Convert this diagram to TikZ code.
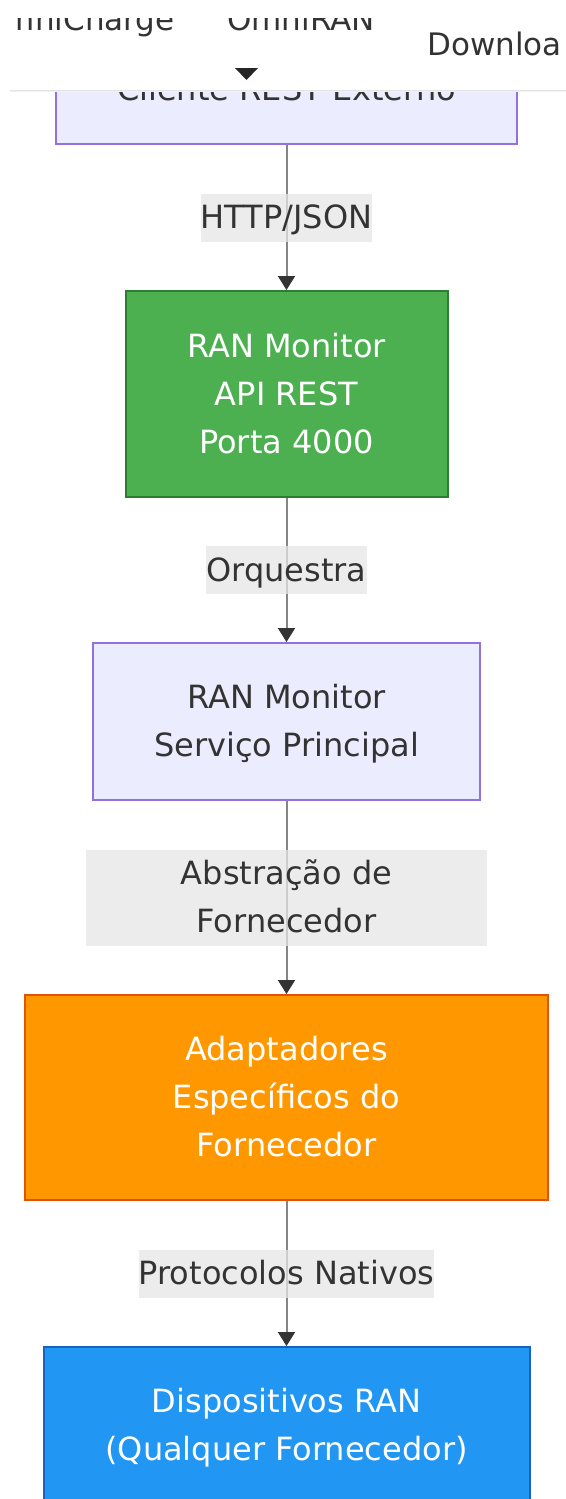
\documentclass[tikz,border=0pt]{standalone}
\usepackage{fontspec}
\setmainfont{DejaVu Sans}
\usetikzlibrary{arrows.meta}
\definecolor{lav}{HTML}{ECECFF}
\definecolor{lavline}{HTML}{9370DB}
\definecolor{txt}{HTML}{333333}
\definecolor{gfill}{HTML}{4CAF50}
\definecolor{gline}{HTML}{2E7D32}
\definecolor{ofill}{HTML}{FF9800}
\definecolor{oline}{HTML}{E65100}
\definecolor{bfill}{HTML}{2196F3}
\definecolor{bline}{HTML}{1565C0}
\definecolor{edgecol}{HTML}{858585}
\definecolor{tipcol}{HTML}{333333}
\definecolor{lblbg}{HTML}{E6E6E6}
\definecolor{shadow}{HTML}{E4E4E4}
\newcommand\lnstrut{\rule[-6.4pt]{0pt}{24pt}}
\begin{document}
\begin{tikzpicture}[x=0.5pt,y=-0.5pt,
  basebox/.style={rectangle, draw, line width=1pt, inner sep=0pt, align=center,
    font=\fontsize{16pt}{24pt}\selectfont},
  lavbox/.style={basebox, fill=lav, draw=lavline, text=txt},
  greenbox/.style={basebox, fill=gfill, draw=gline, text=white},
  orangebox/.style={basebox, fill=ofill, draw=oline, text=white},
  bluebox/.style={basebox, fill=bfill, draw=bline, text=white},
  lbl/.style={rectangle, fill=lblbg, fill opacity=0.75, text opacity=1, text=txt,
    inner sep=0pt, align=center, font=\fontsize{16pt}{24pt}\selectfont},
  edge/.style={draw=edgecol, line width=1pt,
    -{Triangle[length=7pt,width=8.5pt,color=tipcol]}},
  hdr/.style={text=txt, inner sep=0pt, font=\fontsize{15.5pt}{20pt}\selectfont},
]
\useasboundingbox (0,0) rectangle (566,1499);
\clip (0,0) rectangle (566,1499);

\node[lavbox, minimum width=230.5pt, minimum height=54.5pt] (b1) at (286.5,89.5)
  {\lnstrut Cliente REST Externo};
\node[greenbox, minimum width=161pt, minimum height=103pt] (b2) at (286.5,394)
  {\lnstrut RAN Monitor\\\lnstrut API REST\\\lnstrut Porta 4000};
\node[lavbox, minimum width=193.5pt, minimum height=78.5pt] (b3) at (286.5,721.5)
  {\lnstrut RAN Monitor\\\lnstrut Serviço Principal};
\node[orangebox, minimum width=261.5pt, minimum height=102.5pt] (b4) at (286.5,1097.5)
  {\lnstrut Adaptadores\\\lnstrut Específicos do\\\lnstrut Fornecedor};
\node[bluebox, minimum width=243pt, minimum height=78.5pt] (b5) at (286.5,1425.5)
  {\lnstrut Dispositivos RAN\\\lnstrut (Qualquer Fornecedor)};

\draw[edge] (b1.south) -- node[lbl] (l1) {\lnstrut HTTP/JSON} (b2.north);
\draw[edge] (b2.south) -- node[lbl] (l2) {\lnstrut Orquestra} (b3.north);
\draw[edge] (b3.south) -- node[lbl, minimum width=200.5pt] (l3) {\lnstrut Abstração de\\\lnstrut Fornecedor} (b4.north);
\draw[edge] (b4.south) -- node[lbl] (l4) {\lnstrut Protocolos Nativos} (b5.north);

% header bar
\fill[white] (0,0) rectangle (566,90);
\draw[shadow, line width=0.5pt] (10,90.5) -- (566,90.5);
\draw[shadow!50, line width=0.5pt] (10,91.5) -- (566,91.5);
\node[hdr, anchor=base east] (h1) at (175,31) {OmniCharge};
\node[hdr, anchor=base west] (h2) at (227,31) {OmniRAN};
\fill[white] (0,0) rectangle (420,18);
\fill[white] (0,0) rectangle (12,45);
\node[hdr, anchor=base west] (h3) at (427,55) {Download};
\fill[white] (561.5,25) rectangle (566,65);
\fill[black!85] (235,68) -- (258,68) -- (246.5,80) -- cycle;
\end{tikzpicture}
\end{document}
